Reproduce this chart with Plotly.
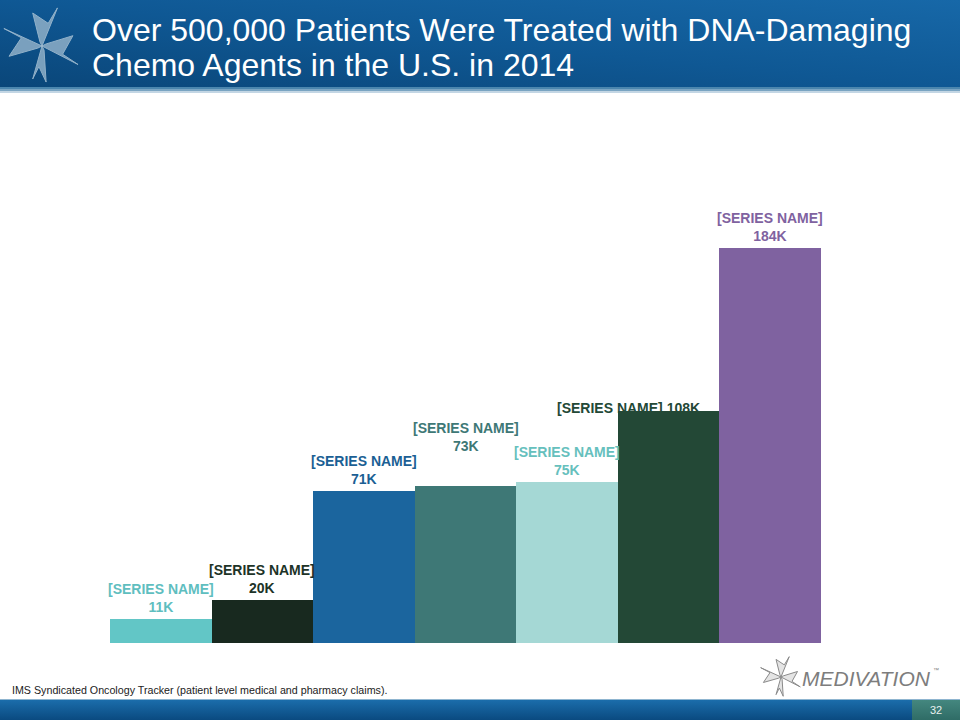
import base64
import plotly.graph_objects as go

# ---------------- data ----------------
categories = ["[SERIES NAME]"] * 7
values_k = [11, 20, 71, 73, 75, 108, 184]
value_labels = ["11K", "20K", "71K", "73K", "75K", "108K", "184K"]
bar_colors = ["#62c6c6", "#18291f", "#1b659e", "#3e7876", "#a5d8d5", "#234836", "#7f62a0"]
label_colors = ["#5fbebf", "#1d3327", "#1b5f94", "#3e7876", "#66c0bd", "#234836", "#7f62a0"]
# label placement tweaks (pixels)
label_dx = [0, 0, 0, 0, 0, -40, 0]
label_dy = [2, 2, 2, 30, 2, -7, 2]
single_line = [False, False, False, False, False, True, False]

title_lines = ["Over 500,000 Patients Were Treated with DNA-Damaging",
               "Chemo Agents in the U.S. in 2014"]
source_text = "IMS Syndicated Oncology Tracker (patient level medical and pharmacy claims)."
page_no = "32"

# ---------------- geometry ----------------
W, H = 960, 720
L, R, T, B = 110, 139, 214, 77
PW, PH = W - L - R, H - T - B


def px(x):
    return (x - L) / PW


def py(y):
    return (H - B - y) / PH


def svg_uri(svg):
    return "data:image/svg+xml;base64," + base64.b64encode(svg.encode()).decode()


fig = go.Figure()
fig.add_trace(go.Bar(
    x=list(range(len(values_k))), y=values_k, width=1,
    marker=dict(color=bar_colors, line=dict(width=0)),
    hoverinfo="skip", showlegend=False,
))

annotations = []
for i, (cat, v, lab) in enumerate(zip(categories, values_k, value_labels)):
    txt = f"<b>{cat} {lab}</b>" if single_line[i] else f"<b>{cat}</b><br><b>{lab}</b>"
    annotations.append(dict(
        x=i, y=v, xref="x", yref="y", text=txt, showarrow=False,
        xanchor="center", yanchor="bottom", xshift=label_dx[i], yshift=label_dy[i],
        font=dict(family="Liberation Sans, Arial", size=14, color=label_colors[i]),
        align="center",
    ))

# title (two lines, placed separately for tight leading)
for line, yc in zip(title_lines, [30, 65]):
    annotations.append(dict(
        x=px(90), y=py(yc), xref="paper", yref="paper", xanchor="left", yanchor="middle",
        text=line, showarrow=False, align="left",
        font=dict(family="Liberation Sans, Arial", size=32, color="white"),
    ))
# source
annotations.append(dict(
    x=px(10), y=py(690), xref="paper", yref="paper", xanchor="left", yanchor="middle",
    text=source_text, showarrow=False,
    font=dict(family="Liberation Sans, Arial", size=10.7, color="#222222"),
))
# company wordmark
annotations.append(dict(
    x=px(800), y=py(678), xref="paper", yref="paper", xanchor="left", yanchor="middle",
    text="<i>MEDIVATION</i>", showarrow=False,
    font=dict(family="Liberation Sans, Arial", size=21, color="#7d7d7d"),
))
annotations.append(dict(
    x=px(931), y=py(670), xref="paper", yref="paper", xanchor="left", yanchor="middle",
    text="™", showarrow=False,
    font=dict(family="Liberation Sans, Arial", size=6, color="#7d7d7d"),
))
# page number
annotations.append(dict(
    x=px(936), y=py(710), xref="paper", yref="paper", xanchor="center", yanchor="middle",
    text=page_no, showarrow=False,
    font=dict(family="Liberation Sans, Arial", size=11, color="#e8f0ee"),
))

# background images (gradients)
header_svg = ('<svg xmlns="http://www.w3.org/2000/svg" width="960" height="88" preserveAspectRatio="none">'
              '<defs><linearGradient id="g" x1="0" y1="1" x2="1" y2="0">'
              '<stop offset="0" stop-color="#0a4679"/><stop offset="0.5" stop-color="#0f5894"/>'
              '<stop offset="1" stop-color="#1768a8"/></linearGradient></defs>'
              '<rect width="960" height="88" fill="url(#g)"/></svg>')
footer_svg = ('<svg xmlns="http://www.w3.org/2000/svg" width="960" height="20" preserveAspectRatio="none">'
              '<defs><linearGradient id="f" x1="0" y1="0" x2="0" y2="1">'
              '<stop offset="0" stop-color="#1b6dab"/><stop offset="1" stop-color="#0a4a80"/></linearGradient>'
              '<linearGradient id="p" x1="0" y1="0" x2="0" y2="1">'
              '<stop offset="0" stop-color="#44877f"/><stop offset="1" stop-color="#2f6c66"/></linearGradient></defs>'
              '<rect width="960" height="20" fill="url(#f)"/>'
              '<rect x="912" width="48" height="20" fill="url(#p)"/></svg>')
images = [
    dict(source=svg_uri(header_svg), xref="paper", yref="paper", x=px(0), y=py(0),
         sizex=W / PW, sizey=88 / PH, xanchor="left", yanchor="top", sizing="stretch", layer="below"),
    dict(source=svg_uri(footer_svg), xref="paper", yref="paper", x=px(0), y=py(700),
         sizex=W / PW, sizey=20 / PH, xanchor="left", yanchor="top", sizing="stretch", layer="below"),
]

shapes = []
# light band under header
for y0, y1, c in [(87, 89, "#4b86ae"), (89, 91, "#79a4c2"), (91, 93, "#c3d6e4")]:
    shapes.append(dict(type="rect", xref="paper", yref="paper", x0=px(0), x1=px(W),
                       y0=py(y1), y1=py(y0), fillcolor=c, line=dict(width=0), layer="below"))
shapes.append(dict(type="rect", xref="paper", yref="paper", x0=px(0), x1=px(W),
                   y0=py(700), y1=py(699), fillcolor="#8fb5d0", line=dict(width=0), layer="below"))


def star(cx, cy, s, fill, line_color, opacity):
    # four notched blades, pinwheel style (pixel offsets relative to centre, scale s)
    blades = [
        [(0, 0), (15, -37), (6, -22), (-9, -32), (-2, -4)],
        [(0, 0), (-37, -17), (-20, -8), (-32, 10), (-4, 2)],
        [(0, 0), (-9, 32), (-3, 20), (4, 35), (2, 4)],
        [(0, 0), (35, 18), (20, 8), (30, -10), (4, -2)],
    ]
    out = []
    for bl in blades:
        pts = [(px(cx + s * dx), py(cy + s * dy)) for dx, dy in bl]
        path = "M " + " L ".join(f"{a:.5f},{b:.5f}" for a, b in pts) + " Z"
        out.append(dict(type="path", xref="paper", yref="paper", path=path,
                        fillcolor=fill, opacity=opacity,
                        line=dict(color=line_color, width=1)))
    return out


shapes += star(42, 46, 1.03, "#8eafc8", "#a9c3d6", 0.85)
shapes += star(781, 677, 0.55, "#e4e4e4", "#8a8a8a", 1.0)

fig.update_layout(
    width=W, height=H,
    margin=dict(l=L, r=R, t=T, b=B, pad=0),
    paper_bgcolor="white", plot_bgcolor="rgba(0,0,0,0)",
    bargap=0,
    xaxis=dict(range=[-0.5, 6.5], visible=False, fixedrange=True),
    yaxis=dict(range=[0, 200], visible=False, fixedrange=True),
    annotations=annotations, shapes=shapes, images=images,
    showlegend=False,
)

fig.write_html("out.html", config={"displayModeBar": False},
               post_script="document.body.style.margin='0px';document.body.style.overflow='hidden';")
